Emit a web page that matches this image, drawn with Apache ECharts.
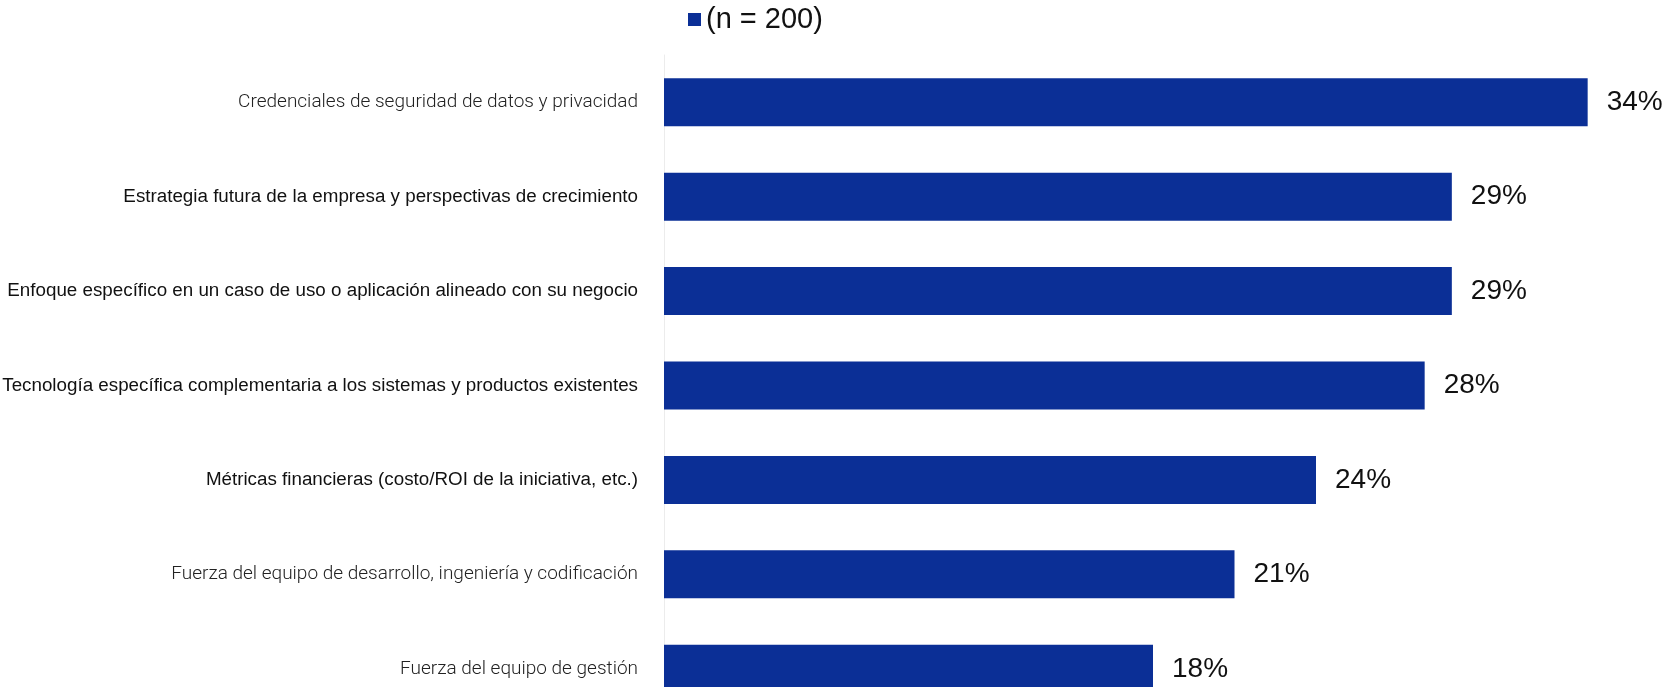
<!DOCTYPE html>
<html>
<head>
<meta charset="utf-8">
<script src="https://cdn.jsdelivr.net/npm/echarts@6/dist/echarts.min.js"></script>
<style>
  html, body { margin: 0; padding: 0; background: #ffffff; }
  #chart { width: 1664px; height: 687px; }
</style>
</head>
<body>
<div id="chart"></div>
<script>
// Criteria, listed top to bottom
const categories = [
  'Credenciales de seguridad de datos y privacidad',
  'Estrategia futura de la empresa y perspectivas de crecimiento',
  'Enfoque específico en un caso de uso o aplicación alineado con su negocio',
  'Tecnología específica complementaria a los sistemas y productos existentes',
  'Métricas financieras (costo/ROI de la iniciativa, etc.)',
  'Fuerza del equipo de desarrollo, ingeniería y codificación',
  'Fuerza del equipo de gestión'
];
// Share of respondents (%)
const values = [34, 29, 29, 28, 24, 21, 18];
// Labels set in the lighter face
const lightLabels = [true, false, false, false, false, true, true];
const seriesName = '(n = 200)';

const barColor = '#0b2f96';

const chart = echarts.init(document.getElementById('chart'));

const categoryData = categories.map((c, i) => ({
  value: c,
  textStyle: lightLabels[i]
    ? { fontFamily: 'Roboto', fontWeight: 300, fontSize: 19, color: '#222' }
    : { fontFamily: 'Liberation Sans', fontWeight: 'normal', fontSize: 18.8, color: '#111' }
}));

chart.setOption({
  animation: false,
  backgroundColor: '#ffffff',
  legend: {
    data: [seriesName],
    left: 683,
    top: 0,
    itemWidth: 13,
    itemHeight: 13,
    icon: 'rect',
    textStyle: { fontFamily: 'Liberation Sans', fontSize: 29, color: '#111' }
  },
  // the last row runs past the lower edge of the canvas
  grid: {
    left: 664, top: 55, width: 978, height: 661,
    containLabel: false,
    outerBoundsMode: 'none'
  },
  xAxis: {
    type: 'value',
    min: 0,
    max: 36,
    show: false
  },
  yAxis: {
    type: 'category',
    inverse: true,
    data: categoryData,
    axisLine: { show: true, lineStyle: { color: '#ececec', width: 1 } },
    axisTick: { show: false },
    axisLabel: { fontSize: 18.8, margin: 26, fontFamily: 'Liberation Sans', color: '#111' }
  },
  series: [{
    name: seriesName,
    type: 'bar',
    data: values,
    barWidth: 48,
    itemStyle: { color: barColor },
    label: {
      show: true,
      position: 'right',
      distance: 19,
      formatter: p => p.value + '%',
      fontFamily: 'Liberation Sans',
      fontSize: 28,
      color: '#111'
    }
  }]
});
</script>
</body>
</html>
